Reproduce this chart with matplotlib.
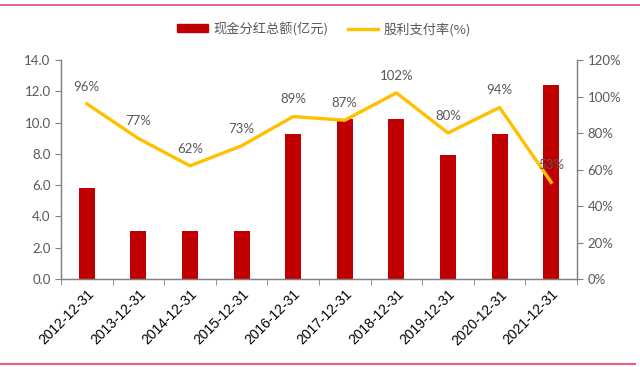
import matplotlib
matplotlib.use("Agg")
import matplotlib.pyplot as plt
import matplotlib.transforms as mtransforms
from matplotlib.lines import Line2D
from matplotlib.ticker import FuncFormatter, MultipleLocator, FixedLocator

plt.rcParams['font.family'] = ['Lato', 'Noto Sans CJK SC', 'DejaVu Sans']

categories = ["2012-12-31", "2013-12-31", "2014-12-31", "2015-12-31", "2016-12-31",
              "2017-12-31", "2018-12-31", "2019-12-31", "2020-12-31", "2021-12-31"]
dividends = [5.8, 3.1, 3.1, 3.1, 9.3, 10.25, 10.25, 7.9, 9.25, 12.4]
payout = [96, 77, 62, 73, 89, 87, 102, 80, 94, 53]

bar_color = "#C00000"
line_color = "#FFC000"
text_color = "#595959"
axis_color = "#808080"

fig = plt.figure(figsize=(6.4, 3.67), dpi=100)
ax = fig.add_axes([61/640, 1-279/367, (577-61)/640, (279-60)/367])
ax2 = ax.twinx()

x = list(range(len(categories)))
ax.bar(x, dividends, width=0.31, color=bar_color, zorder=2, label="现金分红总额(亿元)")
ax2.plot(x, payout, color=line_color, lw=2.4, zorder=3, label="股利支付率(%)")
for xi, v in zip(x, payout):
    ax2.annotate(f"{v}%", (xi, v), xytext=(0, 8), textcoords="offset points",
                 ha="center", va="bottom", fontsize=9.5, color=text_color)

ax.set_xlim(-0.5, len(categories) - 0.5)
ax.set_ylim(0, 14)
ax2.set_ylim(0, 120)
ax.yaxis.set_major_locator(MultipleLocator(2))
ax.yaxis.set_major_formatter(FuncFormatter(lambda v, p: f"{v:.1f}"))
ax2.yaxis.set_major_locator(MultipleLocator(20))
ax2.yaxis.set_major_formatter(FuncFormatter(lambda v, p: f"{v:.0f}%"))

ax.set_xticks(x)
labels = ax.set_xticklabels(categories, rotation=45, ha="right", rotation_mode="anchor",
                            fontsize=10, color="black", family=["Liberation Sans", "DejaVu Sans"])
shift = mtransforms.ScaledTranslation(-4/72, 0, fig.dpi_scale_trans)
for lab in labels:
    lab.set_transform(lab.get_transform() + shift)
ax.xaxis.set_minor_locator(FixedLocator([i - 0.5 for i in range(len(categories) + 1)]))
ax.tick_params(axis="x", which="major", length=0, pad=6)
ax.tick_params(axis="x", which="minor", length=4, color=axis_color, direction="out")
ax.tick_params(axis="y", length=4, color=axis_color, labelsize=9.5, labelcolor=text_color)
ax2.tick_params(axis="y", length=4, color=axis_color, labelsize=9.5, labelcolor=text_color)

for a in (ax, ax2):
    a.spines["top"].set_visible(False)
    for s in ("left", "right", "bottom"):
        a.spines[s].set_color(axis_color)
        a.spines[s].set_linewidth(0.9)

h1, l1 = ax.get_legend_handles_labels()
h2, l2 = ax2.get_legend_handles_labels()
handles = [plt.Rectangle((0, 0), 1, 1, color=bar_color), Line2D([], [], color=line_color, lw=2.4)]
leg = fig.legend(handles, l1 + l2, loc="center", bbox_to_anchor=(324/640, 1 - 29/367), ncol=2,
                 frameon=False, handlelength=2.3, handleheight=0.55, handletextpad=0.4,
                 columnspacing=1.5, labelcolor=text_color,
                 prop={"family": ["Noto Sans CJK SC", "DejaVu Sans"], "size": 9.5})

fig.add_artist(Line2D([0, 1], [1 - 5/367, 1 - 5/367], color="#D9506E", lw=1.2, transform=fig.transFigure))
fig.add_artist(Line2D([0, 635/640], [1 - 364/367, 1 - 364/367], color="#E8607E", lw=1.5, transform=fig.transFigure))

fig.savefig("out.png", dpi=100)
